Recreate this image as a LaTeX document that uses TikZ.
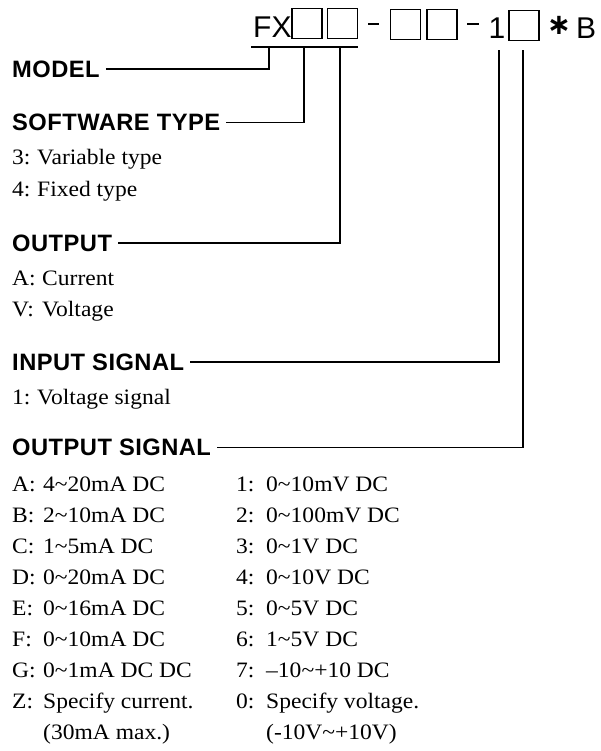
\documentclass[tikz,border=0pt]{standalone}
\usepackage{fontspec}
\setmainfont{Liberation Serif}[FakeStretch=1.07]
\newfontfamily\headfont[LetterSpace=2]{Liberation Sans}
\newfontfamily\codefont{Liberation Sans}
\newfontfamily\symfont{DejaVu Sans}
\newcommand\tld{\textasciitilde}
\begin{document}
\begin{tikzpicture}[x=1pt,y=-1pt,
  conn/.style={line width=1.2pt},
  slot/.style={draw,line width=1.2pt,minimum width=30pt,minimum height=30pt,inner sep=0pt},
  code/.style={inner sep=0pt,anchor=base west,font=\codefont\fontsize{30}{32}\selectfont},
  dashl/.style={line width=2.2pt},
  head/.style={inner sep=0pt,anchor=west,font=\headfont\bfseries\fontsize{23.7}{26}\selectfont},
  item/.style={inner sep=0pt,anchor=base west,font=\fontsize{22}{24}\selectfont}]
\useasboundingbox (0,0) rectangle (600,751);
% header code
\node[code] (fx) at (253,38) {FX};
\node[slot] (b1) at (307,23.5) {};
\node[slot] (b2) at (342.5,23.5) {};
\coordinate (d1a) at (368,24);
\coordinate (d1b) at (379,24);
\draw[dashl] (d1a) -- (d1b);
\node[slot] (b3) at (405.5,24.5) {};
\node[slot] (b4) at (442,24.5) {};
\coordinate (d2a) at (467,24);
\coordinate (d2b) at (479,24);
\draw[dashl] (d2a) -- (d2b);
\node[code,anchor=base] (one) at (497,39) {1};
\node[slot] (b5) at (524,25.5) {};
\node[inner sep=0pt] (ast) at (559,25.5) {\symfont\bfseries\fontsize{29}{31}\selectfont ∗};
\node[code] (bb) at (576,39) {B};
% underline and taps
\coordinate (ulA) at (251,47);
\coordinate (ulB) at (358,47);
\draw[conn] (ulA) -- (ulB);
\coordinate (tM) at (269,47);
\coordinate (tS) at (304,47);
\coordinate (tO) at (340,47);
\coordinate (tI) at (499,50);
\coordinate (tOS) at (523,50);
% headings
\node[head] (hM) at (12,69) {MODEL};
\node[head] (hS) at (12,122.5) {SOFTWARE TYPE};
\node[head] (hO) at (12,243) {OUTPUT};
\node[head] (hI) at (12,362) {INPUT SIGNAL};
\node[head] (hOS) at (12,447.5) {OUTPUT SIGNAL};
\draw[conn] ([xshift=6pt]hM.east) -| (tM);
\draw[conn] ([xshift=6pt]hS.east) -| (tS);
\draw[conn] ([xshift=6pt]hO.east) -| (tO);
\draw[conn] ([xshift=6pt]hI.east) -| (tI);
\draw[conn] ([xshift=6pt]hOS.east) -| (tOS);
% software type
\node[item] (s3) at (12,165) {3:};
\node[item] (s3t) at (37,165) {Variable type};
\node[item] (s4) at (12,196.5) {4:};
\node[item] (s4t) at (37,196.5) {Fixed type};
% output
\node[item] (oA) at (12,285) {A:};
\node[item] (oAt) at (42,285) {Current};
\node[item] (oV) at (12,316) {V:};
\node[item] (oVt) at (42,316) {Voltage};
% input signal
\node[item] (i1) at (12,404) {1:};
\node[item] (i1t) at (37,404) {Voltage signal};
% output signal, current column
\node[item] (cA) at (12,491) {A:};
\node[item] (cAt) at (43,491) {4\tld20mA DC};
\node[item] (cB) at (12,522) {B:};
\node[item] (cBt) at (43,522) {2\tld10mA DC};
\node[item] (cC) at (12,553) {C:};
\node[item] (cCt) at (43,553) {1\tld5mA DC};
\node[item] (cD) at (12,584) {D:};
\node[item] (cDt) at (43,584) {0\tld20mA DC};
\node[item] (cE) at (12,615) {E:};
\node[item] (cEt) at (43,615) {0\tld16mA DC};
\node[item] (cF) at (12,646) {F:};
\node[item] (cFt) at (43,646) {0\tld10mA DC};
\node[item] (cG) at (12,677) {G:};
\node[item] (cGt) at (43,677) {0\tld1mA DC DC};
\node[item] (cZ) at (12,708) {Z:};
\node[item] (cZt) at (43,708) {Specify current.};
\node[item] (cZm) at (43,739) {(30mA max.)};
% output signal, voltage column
\node[item] (v1) at (236,491) {1:};
\node[item] (v1t) at (266,491) {0\tld10mV DC};
\node[item] (v2) at (236,522) {2:};
\node[item] (v2t) at (266,522) {0\tld100mV DC};
\node[item] (v3) at (236,553) {3:};
\node[item] (v3t) at (266,553) {0\tld1V DC};
\node[item] (v4) at (236,584) {4:};
\node[item] (v4t) at (266,584) {0\tld10V DC};
\node[item] (v5) at (236,615) {5:};
\node[item] (v5t) at (266,615) {0\tld5V DC};
\node[item] (v6) at (236,646) {6:};
\node[item] (v6t) at (266,646) {1\tld5V DC};
\node[item] (v7) at (236,677) {7:};
\node[item] (v7t) at (266,677) {–10\tld+10 DC};
\node[item] (v0) at (236,708) {0:};
\node[item] (v0t) at (266,708) {Specify voltage.};
\node[item] (v0m) at (266,739) {(-10V\tld+10V)};
\end{tikzpicture}
\end{document}
